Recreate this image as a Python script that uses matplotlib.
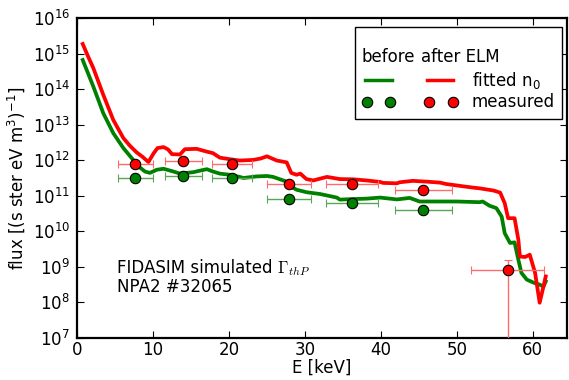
import matplotlib
matplotlib.use("Agg")
import matplotlib.pyplot as plt
from matplotlib.lines import Line2D
from matplotlib.patches import Rectangle

# ---- data ----
E_after = [0.75, 1.5, 2.15, 3.46, 4.78, 6.1, 7.0, 7.85, 8.6, 9.4, 10.1, 10.6, 11.4, 12.0,
           12.5, 13.55, 14.2, 15.75, 17.1, 17.9, 18.8, 20.1, 21.4, 23.2, 24.2, 25.0, 26.3,
           27.6, 28.2, 28.9, 29.4, 30.2, 31.1, 32.9, 34.6, 36.4, 38.1, 39.9, 40.3, 42.1,
           42.5, 44.2, 46.0, 47.8, 48.6, 50.0, 52.1, 53.0, 54.8, 55.7, 56.3, 56.75, 57.6,
           58.1, 58.3, 59.0, 59.6, 60.3, 60.9, 61.4, 61.7]
flux_after = [1.86e15, 7.9e14, 3.9e14, 6.9e13, 1.35e13, 4.2e12, 2.5e12, 1.66e12, 1.26e12,
              8.9e11, 1.58e12, 2.2e12, 2.34e12, 2.0e12, 1.48e12, 1.45e12, 2.04e12, 2.09e12,
              1.74e12, 1.58e12, 1.18e12, 1.07e12, 9.8e11, 1.02e12, 1.12e12, 1.29e12, 9.8e11,
              8.7e11, 4.4e11, 3.9e11, 4.2e11, 2.95e11, 2.7e11, 3.4e11, 2.95e11, 2.9e11,
              2.7e11, 2.45e11, 2.3e11, 2.24e11, 2.4e11, 2.63e11, 2.5e11, 2.34e11, 2.14e11,
              1.95e11, 1.7e11, 1.62e11, 1.41e11, 1.23e11, 6.2e10, 2.34e10, 2.34e10, 5.75e9,
              1.95e9, 1.9e9, 2.2e9, 6.8e8, 9.8e7, 2.8e8, 5.4e8]

E_before = [0.75, 2.15, 3.46, 4.78, 6.1, 7.4, 7.85, 8.95, 9.6, 10.5, 11.4, 12.7, 13.55, 14.4,
            15.3, 16.2, 17.1, 17.9, 18.8, 20.1, 21.4, 21.9, 23.6, 25.0, 25.8, 27.6, 28.2,
            28.9, 30.2, 32.0, 34.2, 34.6, 36.4, 38.1, 39.9, 42.1, 43.8, 45.1, 47.8, 50.0,
            53.0, 53.4, 54.3, 55.2, 55.9, 56.3, 57.0, 57.6, 58.1, 58.5, 59.2, 60.1, 60.9,
            61.4, 61.7]
flux_before = [6.6e14, 1.18e14, 2.1e13, 5.75e12, 2.2e12, 1.02e12, 7.4e11, 4.8e11, 4.4e11,
               5.4e11, 5.75e11, 4.8e11, 4.2e11, 4.4e11, 4.6e11, 5.1e11, 5.6e11, 4.8e11,
               4.2e11, 3.9e11, 3.4e11, 3.16e11, 3.5e11, 3.6e11, 3.4e11, 2.5e11, 1.8e11,
               1.48e11, 1.26e11, 1.12e11, 8.9e10, 7.8e10, 8.1e10, 8.3e10, 8.9e10, 7.9e10,
               8.7e10, 6.9e10, 6.9e10, 6.9e10, 6.6e10, 6.9e10, 5.25e10, 4.5e10, 2.6e10,
               8.9e9, 4.7e9, 4.9e9, 1.58e9, 6.8e8, 4.4e8, 3.6e8, 3.16e8, 2.8e8, 3.9e8]

E_meas_after = [7.7, 14.0, 20.4, 27.9, 36.2, 45.6, 56.7]
flux_meas_after = [7.9e11, 9.8e11, 7.8e11, 2.1e11, 2.2e11, 1.45e11, 8.3e8]
xerr_meas_after = [2.35, 2.45, 2.6, 2.95, 3.4, 3.8, 4.8]
yerr_lo_after = [0, 0, 0, 0, 0, 0, 8.29e8]
yerr_hi_after = [0, 0, 0, 0, 0, 0, 7.7e8]

E_meas_before = [7.7, 14.0, 20.4, 27.9, 36.2, 45.6]
flux_meas_before = [3.1e11, 3.55e11, 3.1e11, 8.1e10, 6.3e10, 4.1e10]
xerr_meas_before = [2.35, 2.45, 2.6, 2.95, 3.4, 3.8]

GREEN = "#008000"
RED = "#ff0000"

plt.rcParams["font.family"] = ["DejaVu Sans"]
plt.rcParams["mathtext.fontset"] = "dejavusans"
plt.rcParams["font.size"] = 12

fig = plt.figure(figsize=(5.69, 3.80), dpi=100)
ax = fig.add_axes([77 / 569, 42 / 380, 490 / 569, 320 / 380])

ax.plot(E_before, flux_before, color=GREEN, lw=2.7, zorder=3)
ax.plot(E_after, flux_after, color=RED, lw=2.7, zorder=3)

ax.errorbar(E_meas_before, flux_meas_before, xerr=xerr_meas_before, fmt="o",
            color=GREEN, mec="black", mew=0.8, ms=7.5, ecolor=(0.35, 0.65, 0.35),
            elinewidth=1.0, capsize=3, capthick=1.0, zorder=4)
ax.errorbar(E_meas_after, flux_meas_after, xerr=xerr_meas_after,
            yerr=[yerr_lo_after, yerr_hi_after], fmt="o",
            color=RED, mec="black", mew=0.8, ms=7.5, ecolor=(1.0, 0.42, 0.42),
            elinewidth=1.0, capsize=3, capthick=1.0, zorder=4)

ax.set_yscale("log")
ax.set_ylim(1e7, 1e16)
ax.set_xlim(0, 64.5)
ax.set_xticks([0, 10, 20, 30, 40, 50, 60])
ax.set_yticks([10.0 ** k for k in range(7, 17)])
ax.tick_params(which="both", direction="in", top=True, right=True, labelsize=12)
ax.tick_params(which="major", length=5, width=0.8)
ax.tick_params(axis="x", which="major", pad=2)
ax.tick_params(axis="y", which="major", pad=5)
ax.tick_params(which="minor", length=2.5, width=0.6)
for s in ax.spines.values():
    s.set_linewidth(1.6)

ax.set_xlabel("E [keV]", fontsize=12, labelpad=0)
ax.set_ylabel(r"flux [(s ster eV m$^3$)$^{-1}$]", fontsize=12, labelpad=4)

t1 = ax.text(0.081, 0.218, "FIDASIM simulated ", transform=ax.transAxes,
             fontsize=12, va="center", ha="left")
fig.canvas.draw()
bb = t1.get_window_extent()
x_end = ax.transAxes.inverted().transform((bb.x1, bb.y0))[0]
ax.text(x_end, 0.218, r"$\Gamma_{thP}$", transform=ax.transAxes, fontsize=12,
        va="center", ha="left", math_fontfamily="cm")
ax.text(0.081, 0.158, "NPA2 #32065", transform=ax.transAxes, fontsize=12,
        va="center", ha="left")

# ---- custom legend ----
T = ax.transAxes
ax.add_patch(Rectangle((0.567, 0.683), 0.422, 0.288, transform=T, facecolor="white",
                       edgecolor="black", lw=1.0, zorder=6))
ax.text(0.581, 0.878, "before", transform=T, fontsize=12, va="center", ha="left", zorder=7)
ax.text(0.703, 0.878, "after ELM", transform=T, fontsize=12, va="center", ha="left", zorder=7)
ax.add_line(Line2D([0.588, 0.642], [0.806, 0.806], transform=T, color=GREEN, lw=2.5, zorder=7))
ax.add_line(Line2D([0.714, 0.767], [0.806, 0.806], transform=T, color=RED, lw=2.5, zorder=7))
ax.text(0.806, 0.806, r"fitted n$_0$", transform=T, fontsize=12, va="center", ha="left", zorder=7)
ax.add_line(Line2D([0.592, 0.639], [0.738, 0.738], transform=T, ls="none", marker="o",
                   color=GREEN, mec="black", mew=0.8, ms=7.5, zorder=7))
ax.add_line(Line2D([0.719, 0.768], [0.738, 0.738], transform=T, ls="none", marker="o",
                   color=RED, mec="black", mew=0.8, ms=7.5, zorder=7))
ax.text(0.806, 0.738, "measured", transform=T, fontsize=12, va="center", ha="left", zorder=7)

fig.savefig("out.png", dpi=100)
